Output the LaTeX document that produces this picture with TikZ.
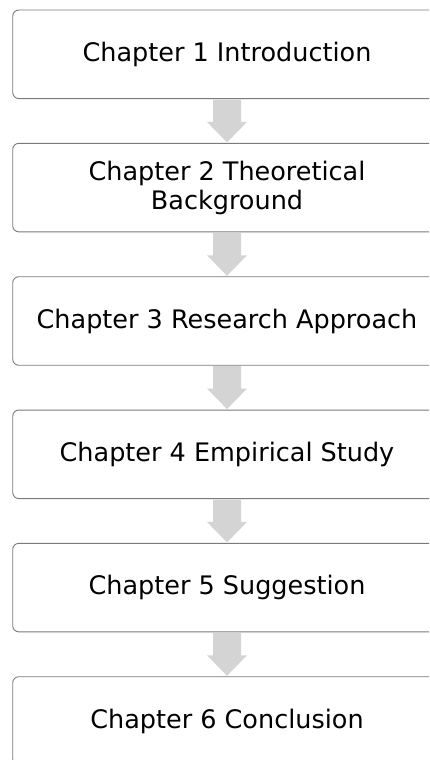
\documentclass[tikz,border=0pt]{standalone}
\usepackage{fontspec}
\setmainfont{DejaVu Sans}
\usetikzlibrary{calc}
\definecolor{boxline}{HTML}{7A7A7A}
\definecolor{arrowfill}{HTML}{D4D4D4}
\tikzset{
  chapbox/.style={draw=boxline, line width=0.9pt, rounded corners=6pt, fill=white,
    minimum width=428.5pt, minimum height=88.5pt, align=center, inner sep=0pt,
    font=\fontsize{25.5pt}{29pt}\selectfont},
  blockarrow/.style={fill=arrowfill, draw=none}
}
\begin{document}
\begin{tikzpicture}[x=1pt,y=1pt]
\useasboundingbox (0,0) rectangle (429,-760);
\clip (0,0) rectangle (429,-760);
\node[chapbox] (c1) at (227,-54.3) {Chapter 1 Introduction};
\node[chapbox] (c2) at (227,-187.6) {Chapter 2 Theoretical\\Background};
\node[chapbox] (c3) at (227,-321.0) {Chapter 3 Research Approach};
\node[chapbox] (c4) at (227,-454.3) {Chapter 4 Empirical Study};
\node[chapbox] (c5) at (227,-587.6) {Chapter 5 Suggestion};
\node[chapbox] (c6) at (227,-721.0) {Chapter 6 Conclusion};
\foreach \a/\b in {c1/c2,c2/c3,c3/c4,c4/c5,c5/c6}{
  \fill[blockarrow]
    ($(\a.south)+(-14,-0.5)$) -- ($(\a.south)+(14,-0.5)$)
    -- ($(\b.north)+(14,21)$) -- ($(\b.north)+(20,21)$)
    -- ($(\b.north)+(0,0.5)$)
    -- ($(\b.north)+(-20,21)$) -- ($(\b.north)+(-14,21)$) -- cycle;
}
\end{tikzpicture}
\end{document}
